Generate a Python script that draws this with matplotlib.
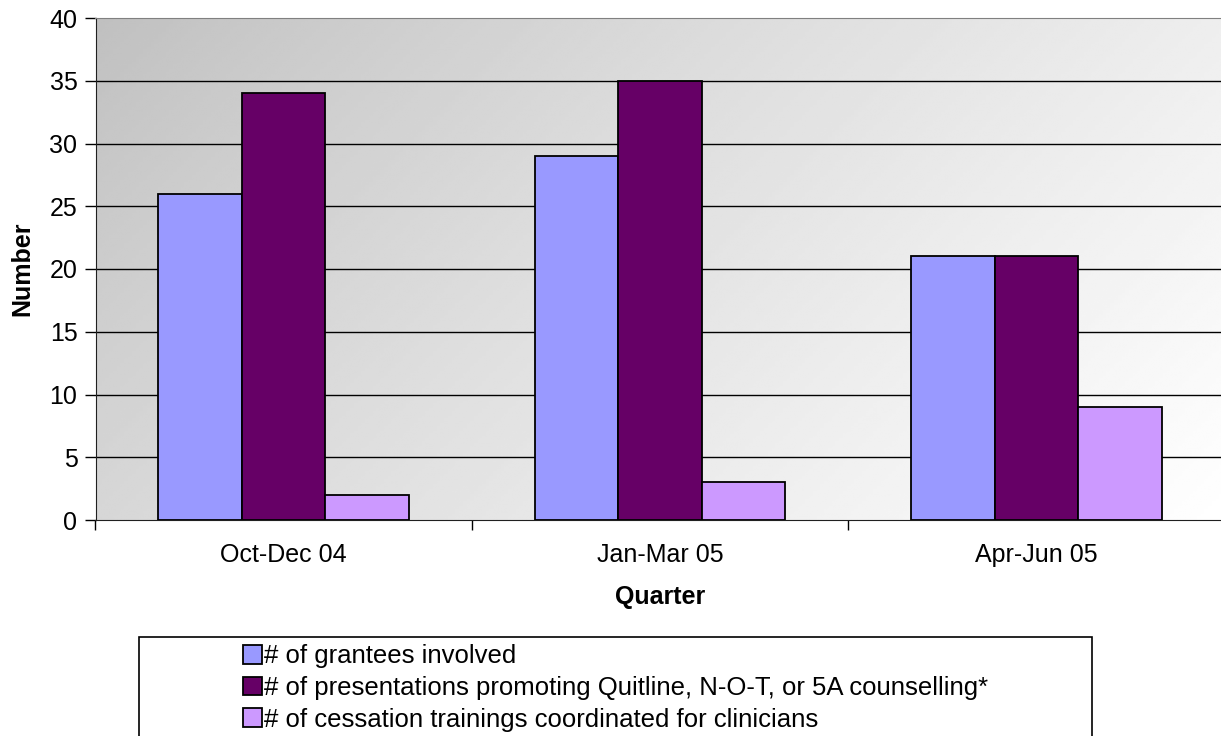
import numpy as np
import matplotlib
matplotlib.use("Agg")
import matplotlib.pyplot as plt
from matplotlib.patches import Rectangle

plt.rcParams['font.family'] = ['Liberation Sans', 'DejaVu Sans']

quarters = ['Oct-Dec 04', 'Jan-Mar 05', 'Apr-Jun 05']
grantees = [26, 29, 21]
presentations = [34, 35, 21]
trainings = [2, 3, 9]
series_names = ['# of grantees involved',
                '# of presentations promoting Quitline, N-O-T, or 5A counselling*',
                '# of cessation trainings coordinated for clinicians']
colors = ['#9999ff', '#660066', '#cc99ff']

W, H = 1221, 736
fig = plt.figure(figsize=(W / 100, H / 100), dpi=100)
# plot area runs a little past the right edge of the picture, as in the original
ax = fig.add_axes([95.5 / W, 216 / H, 1129 / W, 502 / H])

# gradient background, gray top-left to white bottom-right
gx, gy = np.meshgrid(np.linspace(0, 1, 300), np.linspace(0, 1, 200))
grad = (gx * 1129 + gy * 502) / (1129 + 502)
ax.imshow(0.75 + 0.25 * grad ** 0.85, cmap='gray', vmin=0, vmax=1, extent=[-0.5, 2.5, 0, 40],
          origin='upper', aspect='auto', zorder=0, interpolation='bilinear')

x = np.arange(len(quarters))
w = 0.222
for i, vals in enumerate([grantees, presentations, trainings]):
    ax.bar(x + (i - 1) * w, vals, w, color=colors[i], edgecolor='black', linewidth=1.3,
           label=series_names[i], zorder=3)

ax.set_xlim(-0.5, 2.5)
ax.set_ylim(0, 40)
ax.set_yticks(range(0, 41, 5))
for yv in range(5, 40, 5):
    ax.axhline(yv, color='black', linewidth=1, zorder=1)
ax.tick_params(axis='y', labelsize=18, length=8, width=1, pad=5)
ax.set_xticks([-0.5, 0.5, 1.5], minor=False)
ax.set_xticks(x, minor=True)
ax.set_xticklabels([])
ax.set_xticklabels(quarters, minor=True)
ax.tick_params(axis='x', which='major', length=7, width=1)
ax.tick_params(axis='x', which='minor', length=0, labelsize=18, pad=16.5)
ax.spines['top'].set_color('#808080')
ax.spines['right'].set_visible(False)
for s in ['left', 'bottom']:
    ax.spines[s].set_color('#202020')
ax.set_ylabel('Number', fontsize=18, fontweight='bold', labelpad=10.5)
ax.set_xlabel('Quarter', fontsize=18, fontweight='bold', labelpad=13)

fig.patches.append(Rectangle((139 / W, -0.01), (1092 - 139) / W, (H - 637) / H + 0.01,
                             transform=fig.transFigure, facecolor='white', edgecolor='black',
                             linewidth=1.2))
fig.legend(loc='center left', bbox_to_anchor=(243 / W, 1 - 688 / H), frameon=False,
           fontsize=18.5, handlelength=0.73, handleheight=0.73, handletextpad=0.1,
           labelspacing=0.3, borderaxespad=0, borderpad=0)

fig.savefig('out.png', dpi=100)
